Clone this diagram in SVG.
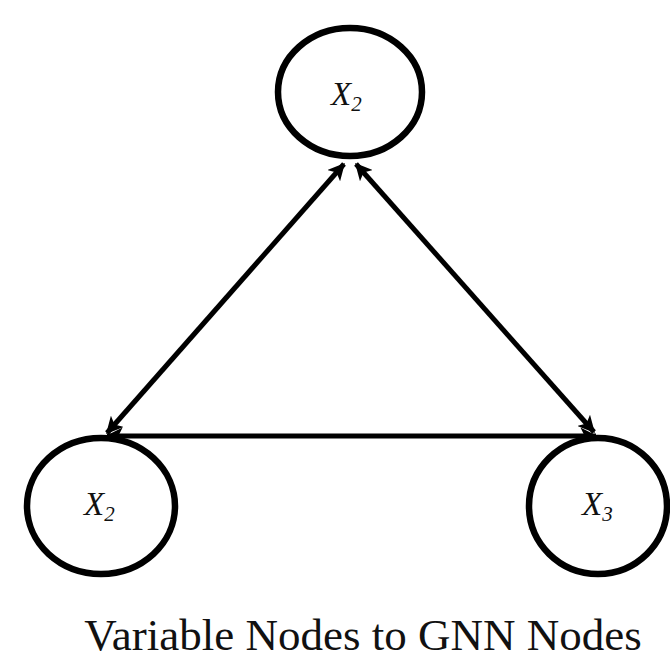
<svg xmlns="http://www.w3.org/2000/svg" width="670" height="665" viewBox="0 0 670 665">
<style>
.node{fill:#fff;stroke:#000;stroke-width:6.5}
.lbl{font-family:"Liberation Serif","Times New Roman",Times,serif;font-style:italic;font-size:33px;fill:#111}
.sub{font-size:21px}
.edge{stroke:#000;stroke-width:5;fill:none;marker-start:url(#ah);marker-end:url(#ah)}
.cap{font-family:"Liberation Serif","Times New Roman",Times,serif;font-size:45px;fill:#111;text-anchor:middle}
</style>
<defs>
<marker id="ah" viewBox="0 0 12 12" refX="11" refY="6" markerWidth="3.4" markerHeight="3.4" orient="auto-start-reverse" markerUnits="strokeWidth">
<path d="M0,0 L12,6 L0,12 L3,6 Z" fill="#000"/>
</marker>
</defs>
<rect width="670" height="665" fill="#fff"/>
<g id="edges">
<line class="edge" x1="344" y1="164" x2="107" y2="433"/>
<line class="edge" x1="356" y1="164" x2="594" y2="432"/>
<line class="edge" x1="107" y1="436" x2="596" y2="436"/>
</g>
<g id="node-top">
<ellipse class="node" cx="350" cy="92" rx="72" ry="64"/>
<text class="lbl" x="331" y="105">X<tspan class="sub" dy="6">2</tspan></text>
</g>
<g id="node-left">
<ellipse class="node" cx="101" cy="506" rx="74" ry="68"/>
<text class="lbl" x="84" y="515">X<tspan class="sub" dy="6">2</tspan></text>
</g>
<g id="node-right">
<ellipse class="node" cx="598" cy="506" rx="69" ry="68"/>
<text class="lbl" x="582" y="515">X<tspan class="sub" dy="6">3</tspan></text>
</g>
<text class="cap" x="363" y="650">Variable Nodes to GNN Nodes</text>
</svg>
